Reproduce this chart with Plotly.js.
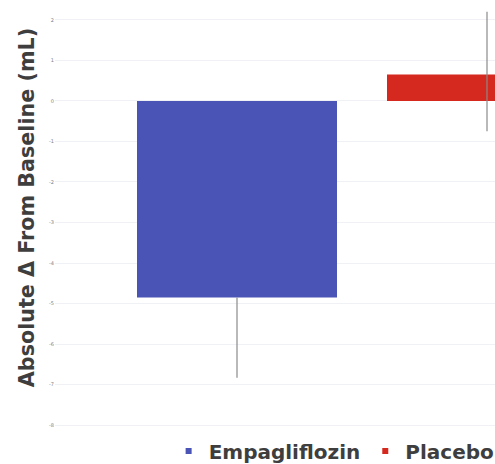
<!DOCTYPE html>
<html>
<head>
<meta charset="utf-8">
<script src="https://cdn.plot.ly/plotly-3.0.1.min.js"></script>
<style>
  html, body { margin: 0; padding: 0; background: #ffffff; }
  #chart { width: 495px; height: 464px; }
</style>
</head>
<body>
<div id="chart"></div>
<script>
// Change from baseline by treatment arm
const groups = ['Empagliflozin', 'Placebo'];
const changeFromBaseline = [-4.85, 0.65];
const errPlus = [0, 1.55];
const errMinus = [1.98, 1.4];
const barColors = ['#4a54b6', '#d5291f'];
const tickValues = [2, 1, 0, -1, -2, -3, -4, -5, -6, -7, -8];
const tickLabels = ['2', '1', '0', '-1', '-2', '-3', '-4', '-5', '-6', '-7', '-8'];
const yTitle = 'Absolute Δ From Baseline (mL)';

const FONT = 'DejaVu Sans, Verdana, sans-serif';

// bars (legend handled by small square markers below)
const barTraces = groups.map((g, i) => ({
  type: 'bar',
  name: g,
  x: [g],
  y: [changeFromBaseline[i]],
  width: 0.8,
  showlegend: false,
  marker: { color: barColors[i], line: { width: 0 } },
  error_y: {
    type: 'data',
    symmetric: false,
    array: [errPlus[i]],
    arrayminus: [errMinus[i]],
    color: '#8a8a8a',
    thickness: 1.2,
    width: 0
  },
  hoverinfo: 'skip'
}));

// legend entries with small square swatches
const legendTraces = groups.map((g, i) => ({
  type: 'scatter',
  mode: 'markers',
  name: g,
  x: [null],
  y: [null],
  marker: { symbol: 'square', size: 6, color: barColors[i] },
  hoverinfo: 'skip'
}));

const layout = {
  width: 495,
  height: 464,
  margin: { l: 55, r: 0, t: 0, b: 32, autoexpand: false },
  paper_bgcolor: '#ffffff',
  plot_bgcolor: '#ffffff',
  barmode: 'overlay',
  showlegend: true,
  legend: {
    orientation: 'h',
    xref: 'container', yref: 'container',
    x: 0.675, xanchor: 'center',
    y: 0.028, yanchor: 'middle',
    font: { family: FONT, size: 20, color: '#3e3e3e', weight: 'bold' },
    itemwidth: 30,
    tracegroupgap: 0,
    bgcolor: 'rgba(0,0,0,0)'
  },
  xaxis: {
    type: 'category',
    range: [-0.728, 1.032],
    showticklabels: false,
    showgrid: false,
    zeroline: false,
    showline: false,
    ticks: ''
  },
  yaxis: {
    range: [-8.17, 2.49],
    tickvals: tickValues,
    ticktext: tickLabels,
    tickfont: { family: FONT, size: 5, color: '#808080' },
    showgrid: true,
    gridcolor: '#f0f1f4',
    gridwidth: 1,
    zeroline: false,
    showline: false,
    ticks: ''
  },
  annotations: [{
    text: yTitle,
    xref: 'paper', yref: 'paper',
    x: -0.065, y: 0.519,
    xanchor: 'center', yanchor: 'middle',
    textangle: -90,
    showarrow: false,
    font: { family: FONT, size: 20.7, color: '#3e3e3e', weight: 'bold' }
  }]
};

Plotly.newPlot('chart', barTraces.concat(legendTraces), layout, { displayModeBar: false, staticPlot: true });
</script>
</body>
</html>
